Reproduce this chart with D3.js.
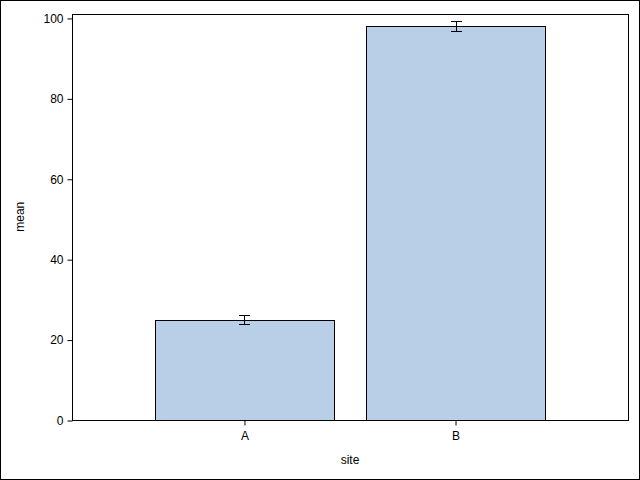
<!DOCTYPE html>
<html>
<head>
<meta charset="utf-8">
<script src="https://cdn.jsdelivr.net/npm/d3@7"></script>
<style>
  body { margin: 0; background: #fff; }
  text { font-family: Arial, "Liberation Sans", sans-serif; }
</style>
</head>
<body>
<div id="chart"></div>
<script>
// data
var sites = ["A", "B"];
var means = [24.9, 97.9];
var lowers = [23.8, 96.7];
var uppers = [26.0, 99.2];
var yTicks = [0, 20, 40, 60, 80, 100];

var data = sites.map(function(s, i) {
  return { site: s, mean: means[i], lo: lowers[i], hi: uppers[i] };
});

var width = 640, height = 480;
var margin = { top: 13.5, right: 12, bottom: 60, left: 72 };

var svg = d3.select("#chart").append("svg")
    .attr("width", width)
    .attr("height", height);

// outer frame
svg.append("rect")
    .attr("x", 0.5).attr("y", 0.5)
    .attr("width", width - 1).attr("height", height - 1)
    .attr("fill", "#fff").attr("stroke", "#000");

var x = d3.scaleBand()
    .domain(sites)
    .range([margin.left, width - margin.right])
    .paddingInner(0.1517)
    .paddingOuter(0.393);

var y = d3.scaleLinear()
    .domain([0, 101.1])
    .range([height - margin.bottom, margin.top]);

var g = svg.append("g");

// bars
g.selectAll("rect.bar")
    .data(data)
    .enter().append("rect")
    .attr("class", "bar")
    .attr("x", function(d) { return Math.round(x(d.site)) + 0.5; })
    .attr("y", function(d) { return Math.round(y(d.mean)) + 0.5; })
    .attr("width", function(d) { return Math.round(x.bandwidth()); })
    .attr("height", function(d) { return Math.round(y(0)) - Math.round(y(d.mean)); })
    .attr("fill", "#b9cfe7")
    .attr("stroke", "#000")
    .attr("stroke-width", 1);

// error bars
var eb = g.selectAll("g.err")
    .data(data)
    .enter().append("g")
    .attr("class", "err")
    .attr("stroke", "#000")
    .attr("stroke-width", 1);

eb.append("line")
    .attr("x1", function(d) { return Math.round(x(d.site) + x.bandwidth() / 2) + 0.5; })
    .attr("x2", function(d) { return Math.round(x(d.site) + x.bandwidth() / 2) + 0.5; })
    .attr("y1", function(d) { return Math.round(y(d.lo)) + 0.5; })
    .attr("y2", function(d) { return Math.round(y(d.hi)) + 0.5; });

["lo", "hi"].forEach(function(k) {
  eb.append("line")
      .attr("x1", function(d) { return Math.round(x(d.site) + x.bandwidth() / 2) - 5; })
      .attr("x2", function(d) { return Math.round(x(d.site) + x.bandwidth() / 2) + 6; })
      .attr("y1", function(d) { return Math.round(y(d[k])) + 0.5; })
      .attr("y2", function(d) { return Math.round(y(d[k])) + 0.5; });
});

// plot frame
svg.append("rect")
    .attr("x", margin.left + 0.5)
    .attr("y", Math.round(margin.top) + 0.5)
    .attr("width", width - margin.left - margin.right)
    .attr("height", Math.round(y(0)) - Math.round(margin.top))
    .attr("fill", "none")
    .attr("stroke", "#000");

// y axis
var yAxis = svg.append("g")
    .attr("transform", "translate(" + (margin.left + 0.5) + ",0.5)")
    .call(d3.axisLeft(y).tickValues(yTicks).tickSize(5).tickPadding(4));
yAxis.select(".domain").remove();
yAxis.selectAll("text").attr("font-size", "12px").attr("fill", "#000")
    .attr("font-family", "Arial, 'Liberation Sans', sans-serif");

// x axis
var xAxis = svg.append("g")
    .attr("transform", "translate(0.5," + (Math.round(y(0)) + 0.5) + ")")
    .call(d3.axisBottom(x).tickSize(5).tickPadding(6));
xAxis.select(".domain").remove();
xAxis.selectAll("text").attr("font-size", "12px").attr("fill", "#000")
    .attr("font-family", "Arial, 'Liberation Sans', sans-serif");

// axis titles
svg.append("text")
    .attr("x", (margin.left + width - margin.right) / 2)
    .attr("y", 464)
    .attr("text-anchor", "middle")
    .attr("font-size", "12px")
    .text("site");

svg.append("text")
    .attr("transform", "translate(24," + (margin.top + y(0)) / 2 + ") rotate(-90)")
    .attr("text-anchor", "middle")
    .attr("font-size", "12px")
    .text("mean");
</script>
</body>
</html>
